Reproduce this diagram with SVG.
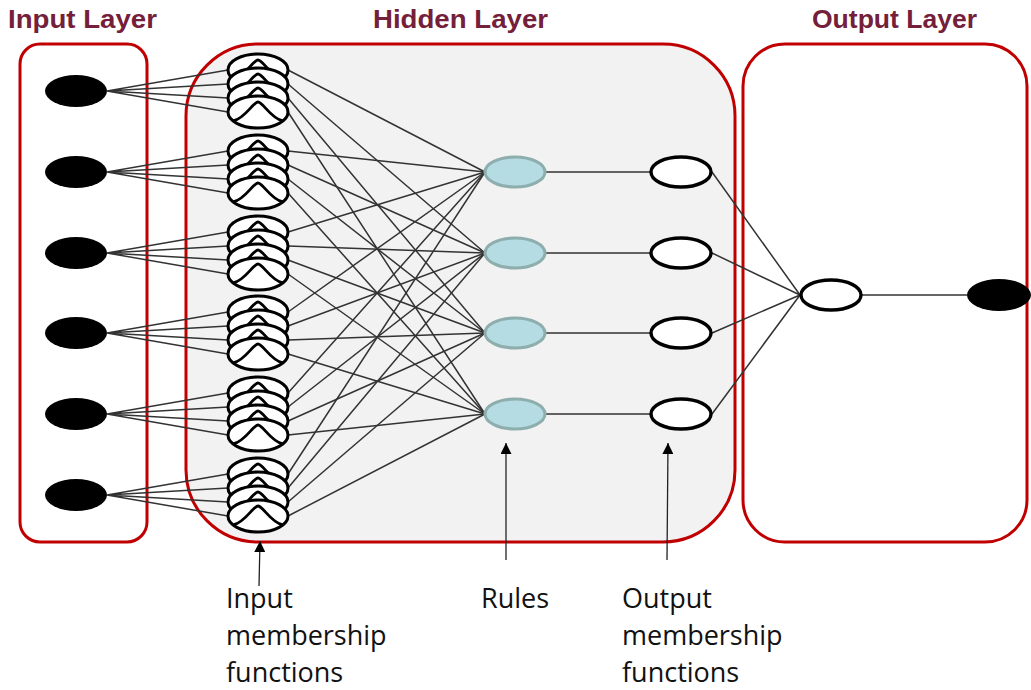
<svg xmlns="http://www.w3.org/2000/svg" xmlns:xlink="http://www.w3.org/1999/xlink" width="1031" height="690" viewBox="0 0 1031 690">
  <style>
    .box { stroke: #c00000; stroke-width: 3; }
    .title { font-family: "Liberation Sans", Arial, sans-serif; font-weight: bold; font-size: 25px; fill: #74203a; }
    .label { font-family: "Open Sans", "Liberation Sans", sans-serif; font-size: 27px; fill: #111; }
    .wire { stroke: #333; stroke-width: 1.5; fill: none; }
    .black { fill: #000; }
    .hollow { fill: #fff; stroke: #000; stroke-width: 3.4; }
    .rule { fill: #b5dce2; stroke: #8eaeae; stroke-width: 3; }
    .mf-shell { fill: #fff; stroke: #000; stroke-width: 3; }
    .mf-bell { fill: none; stroke: #000; stroke-width: 2.8; stroke-linejoin: round; }
    .pointer { stroke: #222; stroke-width: 1.3; fill: none; marker-end: url(#tip); }
  </style>
  <defs>
    <marker id="tip" markerUnits="userSpaceOnUse" markerWidth="11" markerHeight="11" refX="10" refY="5" orient="auto" viewBox="0 0 10 10">
      <path d="M0,0 L10,5 L0,10 z" fill="#000"/>
    </marker>
    <!-- one membership function: ellipse with a bell curve inside -->
    <g id="mf">
      <ellipse class="mf-shell" cx="0" cy="0" rx="30" ry="16"/>
      <path class="mf-bell" d="M-25,9 C-13,7 -5,-10 0,-10 C5,-10 13,7 25,9"/>
    </g>
  </defs>

  <rect width="1031" height="690" fill="#fff"/>

  <!-- layer frames -->
  <g id="frames">
    <rect class="box" x="20" y="44" width="127" height="498" rx="20" ry="20" fill="#fff"/>
    <rect class="box" x="186" y="44" width="549" height="498" rx="72" ry="72" fill="#f2f2f2"/>
    <rect class="box" x="743" y="44" width="284" height="498" rx="42" ry="42" fill="#fff"/>
  </g>

  <!-- titles -->
  <g id="titles">
    <text class="title" x="8" y="28" textLength="149" lengthAdjust="spacingAndGlyphs">Input Layer</text>
    <text class="title" x="373" y="28" textLength="175" lengthAdjust="spacingAndGlyphs">Hidden Layer</text>
    <text class="title" x="812" y="28" textLength="165" lengthAdjust="spacingAndGlyphs">Output Layer</text>
  </g>

  <!-- connectors -->
  <g id="connectors">
    <!-- inputs to membership functions -->
    <path class="wire" d="M107,91 L228,70 M107,91 L228,84 M107,91 L228,98 M107,91 L228,112"/>
    <path class="wire" d="M107,172 L228,151 M107,172 L228,165 M107,172 L228,179 M107,172 L228,193"/>
    <path class="wire" d="M107,253 L228,232 M107,253 L228,246 M107,253 L228,260 M107,253 L228,274"/>
    <path class="wire" d="M107,333 L228,312 M107,333 L228,326 M107,333 L228,340 M107,333 L228,354"/>
    <path class="wire" d="M107,414 L228,393 M107,414 L228,407 M107,414 L228,421 M107,414 L228,435"/>
    <path class="wire" d="M107,495 L228,474 M107,495 L228,488 M107,495 L228,502 M107,495 L228,516"/>
    <!-- membership functions to rules -->
    <path class="wire" d="M288,70 L485,172 M288,84 L485,253 M288,98 L485,333 M288,112 L485,414"/>
    <path class="wire" d="M288,151 L485,172 M288,165 L485,253 M288,179 L485,333 M288,193 L485,414"/>
    <path class="wire" d="M288,232 L485,172 M288,246 L485,253 M288,260 L485,333 M288,274 L485,414"/>
    <path class="wire" d="M288,312 L485,172 M288,326 L485,253 M288,340 L485,333 M288,354 L485,414"/>
    <path class="wire" d="M288,393 L485,172 M288,407 L485,253 M288,421 L485,333 M288,435 L485,414"/>
    <path class="wire" d="M288,474 L485,172 M288,488 L485,253 M288,502 L485,333 M288,516 L485,414"/>
    <!-- rules to output membership functions -->
    <path class="wire" d="M546,172 L650,172 M546,253 L650,253 M546,333 L650,333 M546,414 L650,414"/>
    <!-- output membership functions to aggregation -->
    <path class="wire" d="M712,172 L800,295 M712,253 L800,295 M712,333 L800,295 M712,414 L800,295"/>
    <path class="wire" d="M862,295 L967,295"/>
  </g>

  <!-- input nodes -->
  <g id="inputs">
    <ellipse class="black" cx="76" cy="91" rx="31" ry="16"/>
    <ellipse class="black" cx="76" cy="172" rx="31" ry="16"/>
    <ellipse class="black" cx="76" cy="253" rx="31" ry="16"/>
    <ellipse class="black" cx="76" cy="333" rx="31" ry="16"/>
    <ellipse class="black" cx="76" cy="414" rx="31" ry="16"/>
    <ellipse class="black" cx="76" cy="495" rx="31" ry="16"/>
  </g>

  <!-- input membership functions, four per input -->
  <g id="mf-1"><use href="#mf" x="258" y="70"/><use href="#mf" x="258" y="84"/><use href="#mf" x="258" y="98"/><use href="#mf" x="258" y="112"/></g>
  <g id="mf-2"><use href="#mf" x="258" y="151"/><use href="#mf" x="258" y="165"/><use href="#mf" x="258" y="179"/><use href="#mf" x="258" y="193"/></g>
  <g id="mf-3"><use href="#mf" x="258" y="232"/><use href="#mf" x="258" y="246"/><use href="#mf" x="258" y="260"/><use href="#mf" x="258" y="274"/></g>
  <g id="mf-4"><use href="#mf" x="258" y="312"/><use href="#mf" x="258" y="326"/><use href="#mf" x="258" y="340"/><use href="#mf" x="258" y="354"/></g>
  <g id="mf-5"><use href="#mf" x="258" y="393"/><use href="#mf" x="258" y="407"/><use href="#mf" x="258" y="421"/><use href="#mf" x="258" y="435"/></g>
  <g id="mf-6"><use href="#mf" x="258" y="474"/><use href="#mf" x="258" y="488"/><use href="#mf" x="258" y="502"/><use href="#mf" x="258" y="516"/></g>

  <!-- rules -->
  <g id="rules">
    <ellipse class="rule" cx="515" cy="172" rx="30" ry="15"/>
    <ellipse class="rule" cx="515" cy="253" rx="30" ry="15"/>
    <ellipse class="rule" cx="515" cy="333" rx="30" ry="15"/>
    <ellipse class="rule" cx="515" cy="414" rx="30" ry="15"/>
  </g>

  <!-- output membership functions -->
  <g id="out-mf">
    <ellipse class="hollow" cx="681" cy="172" rx="30" ry="15"/>
    <ellipse class="hollow" cx="681" cy="253" rx="30" ry="15"/>
    <ellipse class="hollow" cx="681" cy="333" rx="30" ry="15"/>
    <ellipse class="hollow" cx="681" cy="414" rx="30" ry="15"/>
  </g>

  <g id="aggregate"><ellipse class="hollow" cx="831" cy="295" rx="30" ry="15"/></g>
  <g id="output"><ellipse class="black" cx="999" cy="295" rx="32" ry="16"/></g>

  <!-- pointers and captions -->
  <g id="pointers">
    <line class="pointer" x1="259" y1="586" x2="260" y2="541"/>
    <line class="pointer" x1="506" y1="560" x2="506" y2="443"/>
    <line class="pointer" x1="667" y1="560" x2="668" y2="443"/>
  </g>
  <g id="captions">
    <text class="label" x="226" y="608">Input</text>
    <text class="label" x="226" y="645">membership</text>
    <text class="label" x="226" y="682">functions</text>
    <text class="label" x="481" y="608">Rules</text>
    <text class="label" x="622" y="608">Output</text>
    <text class="label" x="622" y="645">membership</text>
    <text class="label" x="622" y="682">functions</text>
  </g>
</svg>
